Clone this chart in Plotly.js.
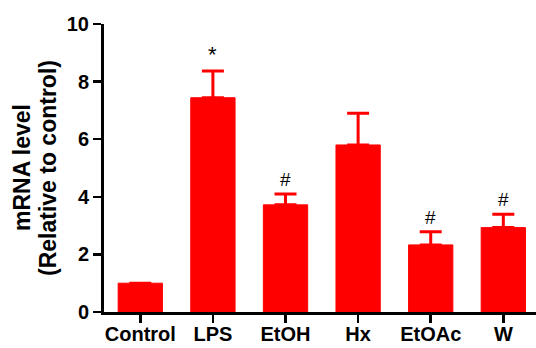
<!DOCTYPE html>
<html><head><meta charset="utf-8">
<script src="https://cdn.plot.ly/plotly-3.0.1.min.js"></script>
<style>html,body{margin:0;padding:0;background:#fff}#c{width:536px;height:348px}</style>
</head><body><div id="c"></div>
<script>
const categories = ["Control", "LPS", "EtOH", "Hx", "EtOAc", "W"];
const values = [1.0, 7.44, 3.72, 5.8, 2.33, 2.93];
const errors = [0, 0.93, 0.38, 1.1, 0.46, 0.46];
const marks = ["", "*", "#", "", "#", "#"];
const yTitleLines = ["mRNA level", "(Relative to control)"];

const FONT = "Liberation Sans, Arial, sans-serif";

const trace = {
  type: "bar", x: categories, y: values,
  marker: {color: "#ff0000", line: {color: "#ff0000", width: 1}},
  error_y: {type: "data", symmetric: false, array: errors, arrayminus: categories.map(() => 0),
            color: "#ff0000", thickness: 3, width: 11, visible: true},
  hoverinfo: "none"
};

const annotations = categories.map((c, i) => ({
  x: c, y: values[i] + errors[i], xref: "x", yref: "y",
  text: marks[i], showarrow: false, yanchor: "bottom", yshift: 2,
  font: {family: FONT, size: marks[i] === "*" ? 22 : 19, color: "#000"}
})).filter(a => a.text);

const titleX = [22, 48];
yTitleLines.forEach((t, i) => annotations.push({
  text: t, textangle: -90, showarrow: false,
  xref: "paper", yref: "paper", x: (titleX[i] - 104) / 432, y: 0.5,
  xanchor: "center", yanchor: "middle",
  font: {family: FONT, size: 23, color: "#000", weight: "bold"}
}));

const layout = {
  width: 536, height: 348,
  margin: {l: 104, r: 0, t: 24, b: 36, pad: 0},
  paper_bgcolor: "#fff", plot_bgcolor: "#fff",
  bargap: 0.39, showlegend: false,
  font: {family: FONT, color: "#000"},
  xaxis: {range: [-0.5, 5.45], showline: true, linecolor: "#000", linewidth: 3,
          ticks: "outside", ticklen: 8, tickwidth: 2.5, tickcolor: "#000",
          ticklabelstandoff: -6,
          tickfont: {size: 20, family: FONT, weight: "bold"},
          showgrid: false, zeroline: false, fixedrange: true},
  yaxis: {range: [0, 10], dtick: 2, showline: true, linecolor: "#000", linewidth: 3,
          ticks: "outside", ticklen: 8, tickwidth: 2.5, tickcolor: "#000",
          tickfont: {size: 20, family: FONT, weight: "bold"},
          showgrid: false, zeroline: false, fixedrange: true},
  annotations: annotations
};

Plotly.newPlot("c", [trace], layout, {staticPlot: true, displayModeBar: false});
</script></body></html>
